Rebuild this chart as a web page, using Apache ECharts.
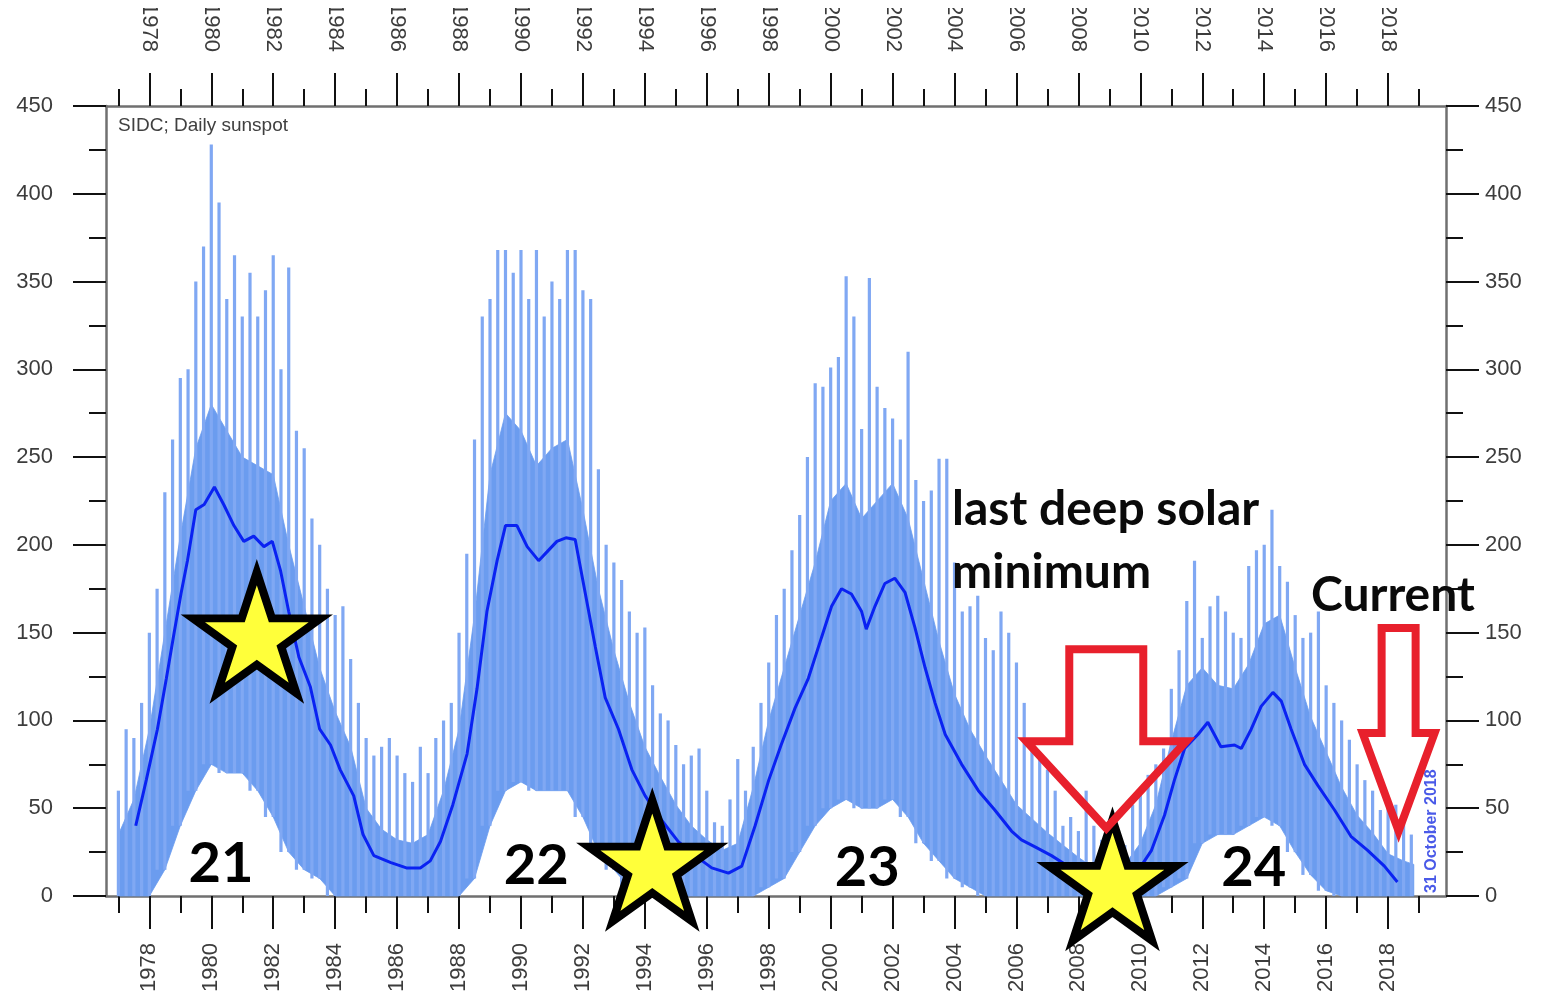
<!DOCTYPE html>
<html><head><meta charset="utf-8">
<script src="https://cdn.jsdelivr.net/npm/echarts@6/dist/echarts.min.js"></script>
<style>html,body{margin:0;padding:0;background:#fff;overflow:hidden}#c{width:1549px;height:995px}</style>
</head><body><div id="c"></div>
<script>
// ---- tick labels ----
const yearLabels = [1978,1980,1982,1984,1986,1988,1990,1992,1994,1996,1998,2000,2002,2004,2006,2008,2010,2012,2014,2016,2018];
const minorYears = [1977,1979,1981,1983,1985,1987,1989,1991,1993,1995,1997,1999,2001,2003,2005,2007,2009,2011,2013,2015,2017,2019];
const yTickValues = [0,50,100,150,200,250,300,350,400,450];

// ---- daily sunspot number: dense band (half-year) ----
const bandStart = 1977.0, bandStep = 0.5, dataEnd = 2018.83;
const bandLow = [0,0,0,15,40,60,75,70,70,60,45,25,15,10,0,0,0,0,0,0,0,0,0,10,40,60,65,60,60,60,45,25,15,5,0,0,0,0,0,0,0,0,5,10,25,40,50,55,50,50,55,45,30,20,10,5,0,0,0,0,0,0,0,0,0,0,0,0,5,10,30,35,35,40,45,40,25,12,3,0,0,0,0,0,0];
const bandBody = [35,55,95,150,205,255,280,265,250,245,240,200,165,130,105,85,50,38,32,30,35,60,95,160,240,275,265,245,255,260,220,175,140,110,85,68,52,40,32,26,30,62,100,130,160,190,225,235,215,225,235,215,180,145,115,95,80,66,52,44,36,29,22,16,14,18,30,52,88,120,130,120,118,132,155,160,130,102,82,62,46,36,24,20,18];

// ---- daily sunspot number: spike tops (quarter-year) ----
const spikeStart = 1977.0, spikeStep = 0.25;
const spikeHigh = [60,95,90,110,150,175,230,260,295,300,350,370,428,395,340,365,330,355,330,345,365,300,358,265,255,215,200,175,160,165,135,110,90,80,85,90,80,70,65,85,70,90,100,110,150,195,260,330,340,368,368,355,368,340,368,330,350,340,368,368,345,340,243,200,190,180,162,150,153,120,104,100,86,75,80,84,60,42,40,55,78,60,85,110,133,160,175,197,217,250,292,290,301,307,353,330,266,352,290,278,272,260,310,237,225,231,249,249,190,162,165,171,147,140,162,150,133,110,86,80,72,60,40,45,37,60,40,32,26,28,29,52,60,69,75,84,118,140,168,191,147,165,171,162,150,147,188,197,200,220,188,179,160,147,150,162,120,110,100,89,75,66,60,49,57,52,45,35];

// ---- smoothed (monthly, 13-month) sunspot number ----
const smoothYears = [1977.56,1977.9,1978.26,1978.55,1978.8,1979.02,1979.23,1979.5,1979.77,1980.1,1980.4,1980.73,1981.05,1981.37,1981.7,1981.97,1982.24,1982.5,1982.83,1983.2,1983.5,1983.85,1984.16,1984.6,1984.9,1985.25,1985.8,1986.3,1986.75,1987.07,1987.4,1987.8,1988.26,1988.58,1988.9,1989.23,1989.5,1989.87,1990.2,1990.57,1990.84,1991.16,1991.45,1991.75,1992.07,1992.4,1992.72,1993.15,1993.58,1994.01,1994.55,1995.08,1995.62,1996.16,1996.7,1997.13,1997.56,1998.0,1998.4,1998.85,1999.28,1999.7,2000.03,2000.35,2000.67,2001.0,2001.15,2001.43,2001.75,2002.07,2002.4,2002.72,2003.05,2003.37,2003.7,2004.23,2004.77,2005.3,2005.84,2006.16,2006.6,2007.13,2007.67,2008.2,2008.74,2009.27,2009.8,2010.36,2010.78,2011.1,2011.43,2011.86,2012.18,2012.6,2013.04,2013.26,2013.58,2013.9,2014.28,2014.55,2014.87,2015.3,2015.73,2016.27,2016.8,2017.34,2017.88,2018.3];
const smoothValues = [40,66,95,124,150,172,191,220,223,233,223,211,202,205,199,202,185,162,136,119,95,86,72,57,35,23,19,16,16,20,31,52,81,118,162,191,211,211,199,191,196,202,204,203,173,142,113,95,72,57,43,31,23,16,13,17,40,66,86,107,124,147,165,175,172,162,152,165,178,181,173,153,130,110,92,75,60,49,37,32,28,23,17,11,8,8,11,26,46,66,84,92,99,85,86,84,95,108,116,111,95,75,63,49,34,26,17,8];

// ---- annotations ----
const starYears = [1981.47, 1994.24, 2009.1];
const starValues = [150, 20, 9];
const cycleNames = ['21','22','23','24'];
const cycleYears = [1980.31, 1990.49, 2001.18, 2013.66];
const cycleValues = [18, 17, 16, 16];
const arrowTips = [[2008.9, 38.6], [2018.34, 37]];

const X_MIN = 1976.6, X_MAX = 2019.87;
const bandYears = bandLow.map((_, i) => i === bandLow.length - 1 ? dataEnd : bandStart + i * bandStep);
const bandSegments = bandYears.slice(0, -1).map((y, i) => [y, bandLow[i], bandBody[i], bandYears[i + 1], bandLow[i + 1], bandBody[i + 1]]);
const spikeData = spikeHigh.map((h, i) => {
  const yr = spikeStart + i * spikeStep;
  const bi = Math.min(bandLow.length - 1, Math.round((yr - bandStart) / bandStep));
  return [yr, h, bandLow[bi]];
});

const STAR = 'path://M100,0 L122.45,69.1 L195.1,69.1 L136.3,111.8 L158.8,180.9 L100,138.2 L41.2,180.9 L63.7,111.8 L4.9,69.1 L77.55,69.1 Z';
const labelFont = {fontFamily:'"Liberation Sans", Arial, sans-serif', fontSize:22, color:'#3c3c3c'};
const tickLine = {color:'#111', width:2};
const BIG = 'Lato, "Open Sans", sans-serif';

function xAxisDef(pos, major) {
  return {
    type:'value', position:pos, min:X_MIN, max:X_MAX, gridIndex:0,
    axisLine:{show:major, lineStyle:{color:'#707070', width:2.5}},
    splitLine:{show:false},
    axisTick:{show:true, inside:false, length: major ? 33 : 17, lineStyle:tickLine, customValues: major ? yearLabels : minorYears},
    axisLabel: major ? Object.assign({show:true, rotate:90, margin: pos === 'bottom' ? 47 : 54, customValues:yearLabels, formatter: v => String(v)}, labelFont) : {show:false}
  };
}
function yAxisDef(pos) {
  return {
    type:'value', position:pos, min:0, max:450, interval:50, gridIndex:0,
    axisLine:{show:true, lineStyle:{color:'#707070', width:2.5}},
    splitLine:{show:false},
    axisTick:{show:true, length:33, lineStyle:tickLine},
    minorTick:{show:true, splitNumber:2, length:17, lineStyle:tickLine},
    axisLabel:Object.assign({margin: pos === 'left' ? 53 : 39, customValues:yTickValues}, labelFont)
  };
}

const chart = echarts.init(document.getElementById('c'), null, {renderer:'canvas'});
const option = {
  animation:false,
  backgroundColor:'#fff',
  grid:{left:106, right:103, top:104, bottom:99, containLabel:false},
  xAxis:[xAxisDef('bottom', true), xAxisDef('bottom', false), xAxisDef('top', true), xAxisDef('top', false)],
  yAxis:[yAxisDef('left'), yAxisDef('right')],
  series:[
    {type:'custom', name:'band', silent:true, z:1, data: bandSegments, encode:{x:[0,3], y:[1,2,4,5]},
     renderItem: (params, api) => {
       const a = api.coord([api.value(0), api.value(1)]);
       const b = api.coord([api.value(3), api.value(4)]);
       const c = api.coord([api.value(3), api.value(5)]);
       const d = api.coord([api.value(0), api.value(2)]);
       return {type:'polygon', shape:{points:[a, b, c, d]}, style:{fill:'#6b9cef', stroke:'#6b9cef', lineWidth:0.8}};
     }},
    {type:'custom', name:'spikes', silent:true, z:2, data: spikeData, encode:{x:0, y:[1,2]},
     renderItem: (params, api) => {
       const a = api.coord([api.value(0), api.value(2)]);
       const b = api.coord([api.value(0), api.value(1)]);
       return {type:'line', shape:{x1:a[0], y1:a[1], x2:b[0], y2:b[1]}, style:{stroke:'#80a8f3', lineWidth:3.2}};
     }},
    {type:'line', name:'smoothed', symbol:'none', z:3, smooth:false,
     lineStyle:{color:'#0a22f2', width:3},
     data: smoothYears.map((y, i) => [y, smoothValues[i]])},
    {type:'scatter', name:'stars', z:6, clip:false, symbol:STAR, symbolSize:[128,121], silent:true,
     itemStyle:{color:'#ffff3a', opacity:1, borderColor:'#000', borderWidth:8, borderJoin:'miter', borderMiterLimit:10},
     data: starYears.map((y, i) => [y, starValues[i]])},
    {type:'scatter', name:'cycles', z:7, clip:false, symbolSize:0, silent:true,
     itemStyle:{color:'rgba(0,0,0,0)', opacity:1},
     label:{show:true, position:'inside', formatter: p => p.name, fontFamily:BIG, fontWeight:'bold', fontSize:56, color:'#000', opacity:1, textBorderWidth:0},
     data: cycleYears.map((y, i) => ({name:cycleNames[i], value:[y, cycleValues[i]]}))}
  ]
};
chart.setOption(option);

function arrow(tip, pts) {
  const p = chart.convertToPixel({xAxisIndex:0, yAxisIndex:0}, tip);
  return {type:'polygon', z:100, silent:true,
    shape:{points: pts.map(q => [p[0] + q[0], p[1] + q[1]])},
    style:{fill:'none', stroke:'#e8202c', lineWidth:8, lineJoin:'miter', miterLimit:10}};
}
const arrow1 = [[0,0],[-80,-87],[-37,-87],[-37,-179],[37,-179],[37,-87],[80,-87]];
const arrow2 = [[0,0],[-36,-98],[-17,-98],[-17,-203],[17,-203],[17,-98],[36,-98]];

chart.setOption({graphic:[
  {type:'text', left:118, top:116, z:50, style:{text:'SIDC; Daily sunspot', fontFamily:'"Liberation Sans", Arial, sans-serif', fontSize:19, fill:'#404040'}},
  {type:'text', left:952, top:478, z:50, style:{text:'last deep solar\nminimum', fontFamily:BIG, fontWeight:'bold', fontSize:48, lineHeight:63, fill:'#0a0a0a'}},
  {type:'text', left:1311, top:572, z:50, style:{text:'Current', fontFamily:BIG, fontWeight:'bold', fontSize:48, fill:'#0a0a0a'}},
  {type:'text', x:1432, y:893, rotation:Math.PI/2, z:50, style:{text:'31 October 2018', fontFamily:'"Liberation Sans", Arial, sans-serif', fontWeight:'bold', fontSize:16, fill:'#4a5ae8', align:'left', verticalAlign:'middle'}},
  arrow(arrowTips[0], arrow1),
  arrow(arrowTips[1], arrow2),
  {type:'rect', z:200, silent:true, shape:{x:0, y:0, width:1549, height:8}, style:{fill:'#fff'}}
]});
</script>
</body></html>
